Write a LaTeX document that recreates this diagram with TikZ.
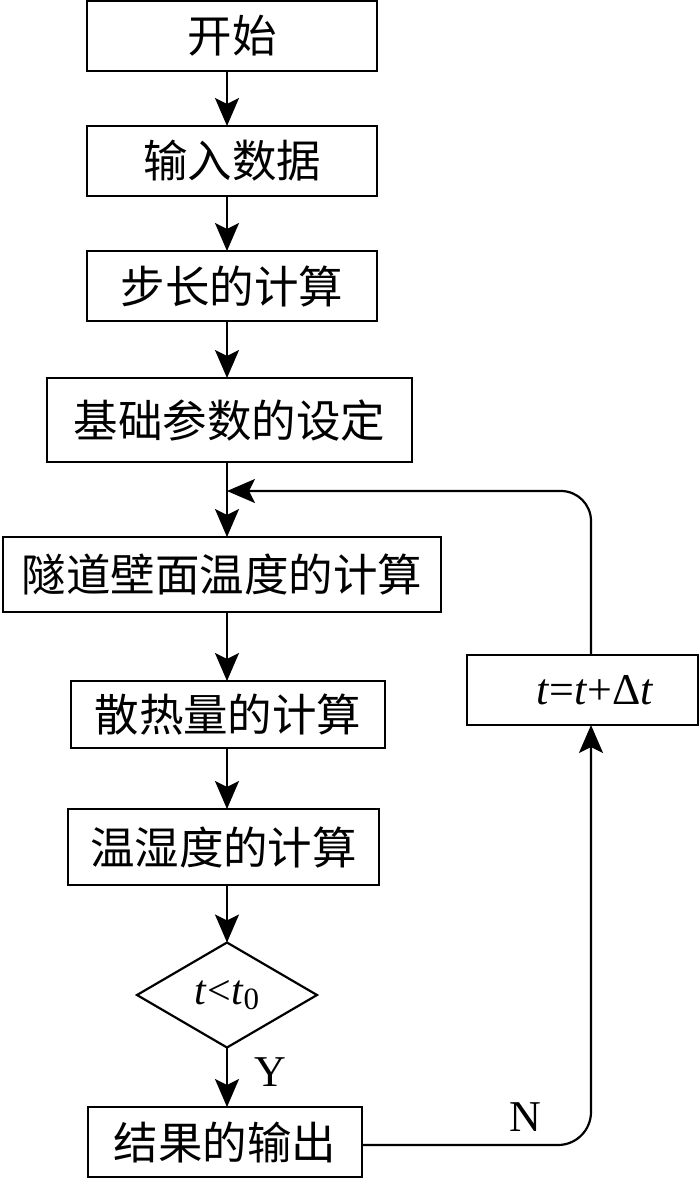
\documentclass[tikz,border=0pt]{standalone}
\usepackage{fontspec}
\setmainfont{Liberation Serif}
\newfontfamily\cjk{Noto Sans CJK SC}
\usetikzlibrary{shapes.geometric,arrows.meta}
\begin{document}
\begin{tikzpicture}[x=1pt,y=-1pt,
  box/.style={draw,line width=2.2pt,inner sep=0pt,outer sep=0pt,font=\cjk\fontsize{44.5}{44.5}\selectfont},
  dec/.style={draw,diamond,line width=2.2pt,inner sep=0pt,outer sep=0pt,font=\fontsize{42}{42}\selectfont},
  arr/.style={line width=2.2pt,-{Stealth[length=28pt,width=24pt,inset=6pt]}},
  lbl/.style={font=\fontsize{44}{44}\selectfont,inner sep=0pt}]
\useasboundingbox (0,0) rectangle (700,1179);
\node[box,minimum width=290pt,minimum height=70pt] (b1) at (232,36) {开始};
\node[box,minimum width=290pt,minimum height=70pt] (b2) at (232,161) {输入数据};
\node[box,minimum width=290pt,minimum height=70pt] (b3) at (232,286) {步长的计算};
\node[box,minimum width=365pt,minimum height=84pt] (b4) at (229.5,420) {基础参数的设定};
\node[box,minimum width=438pt,minimum height=75pt] (b5) at (222,574.5) {隧道壁面温度的计算};
\node[box,minimum width=314pt,minimum height=67pt] (b6) at (228,714.5) {散热量的计算};
\node[box,minimum width=311pt,minimum height=76pt] (b7) at (223.5,847) {温湿度的计算};
\node[dec,minimum width=180pt,minimum height=105pt] (d) at (227,995) {\textit{t}<\textit{t}\raisebox{-0.3ex}{\fontsize{31}{31}\selectfont 0}};
\node[box,minimum width=274pt,minimum height=70pt] (b8) at (225,1142) {结果的输出};
\node[box,minimum width=231pt,minimum height=70pt,font=\fontsize{44}{44}\selectfont] (tb) at (582.5,690) {\hspace*{25pt}\textit{t}=\textit{t}+Δ\textit{t}};
\node[lbl] (ylab) at (270,1072) {Y};
\node[lbl] (nlab) at (525,1117) {N};
\coordinate (ax) at (227,0);
\coordinate (rx) at (591,0);
\coordinate (merge) at (227,491);
\draw[arr] (ax |- b1.south) -- (ax |- b2.north);
\draw[arr] (ax |- b2.south) -- (ax |- b3.north);
\draw[arr] (ax |- b3.south) -- (ax |- b4.north);
\draw[arr] (ax |- b4.south) -- (ax |- b5.north);
\draw[arr] (ax |- b5.south) -- (ax |- b6.north);
\draw[arr] (ax |- b6.south) -- (ax |- b7.north);
\draw[arr] (ax |- b7.south) -- (d.north);
\draw[arr] (d.south) -- (ax |- b8.north);
\draw[arr,rounded corners=33pt] (b8.east |- 0,1145) -- (rx |- 0,1145) -- (rx |- tb.south);
\draw[arr,rounded corners=30pt] (rx |- tb.north) -- (rx |- merge) -- (merge);
\end{tikzpicture}
\end{document}
